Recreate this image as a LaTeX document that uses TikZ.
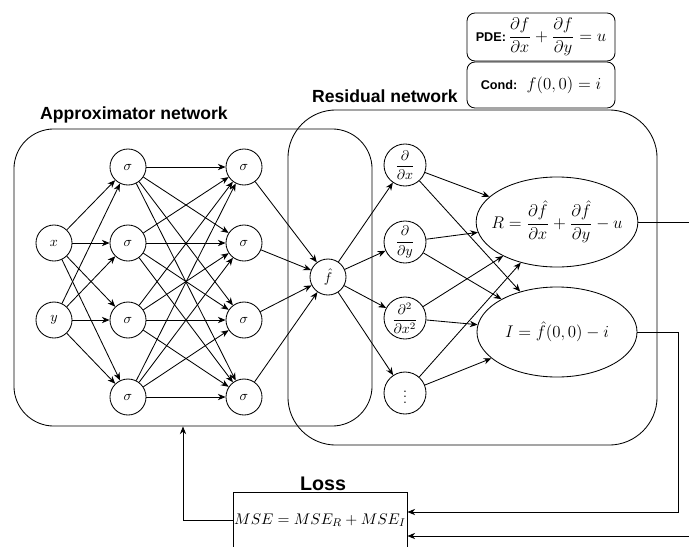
\documentclass[tikz,border=0pt]{standalone}
\usepackage{amsmath}
\usepackage{fontspec}
\newfontfamily\arialfont{Liberation Sans}
\newcommand\tagfont{\arialfont\bfseries\fontsize{9}{10}\selectfont}
\usetikzlibrary{shapes.geometric,arrows.meta}
\begin{document}
\begin{tikzpicture}[x=0.025cm,y=-0.025cm,line width=0.6pt,
   neuron/.style={circle,draw,minimum size=0.9cm,inner sep=0pt},
   deriv/.style={circle,draw,minimum size=1.05cm,inner sep=0pt},
   term/.style={ellipse,draw,minimum width=4cm,minimum height=2.25cm,inner sep=0pt,inner xsep=-6pt,font=\large},
   netbox/.style={draw,rounded corners=1cm,inner sep=0pt},
   condbox/.style={draw,rounded corners=0.2cm,minimum width=3.7cm,inner sep=2pt},
   title/.style={font=\arialfont\bfseries\fontsize{12.5}{14}\selectfont},
   conn/.style={-{Stealth[length=5.5pt,width=4.5pt]}}]
   \useasboundingbox (0,0) rectangle (689,546);
   \node[netbox,minimum width=8.95cm,minimum height=7.425cm] (approx) at (193,277.5) {};
   \node[netbox,rounded corners=1.2cm,minimum width=9.225cm,minimum height=8.375cm] (resid) at (472.5,277.5) {};
   \node[title] (approxlbl) at (134,115) {Approximator network};
   \node[title] (residlbl) at (385,96) {Residual network};
   \node[condbox,minimum height=1.2cm] (pde) at (541,37)
      {{\tagfont PDE:}\,\large$\dfrac{\partial f}{\partial x}+\dfrac{\partial f}{\partial y}=u$};
   \node[condbox,minimum height=1.15cm] (cond) at (541,85)
      {{\tagfont Cond:}\ \ \large$f(0,0)=i$};
   \node[neuron] (x) at (54,243) {$x$};
   \node[neuron] (y) at (54,320) {$y$};
   \foreach \i/\yy in {1/167,2/243,3/320,4/397} {
      \node[neuron] (a\i) at (128,\yy) {$\sigma$};
      \node[neuron] (b\i) at (244,\yy) {$\sigma$};
   }
   \node[neuron] (f) at (328,277) {$\hat{f}$};
   \node[deriv] (d1) at (405,165) {$\dfrac{\partial}{\partial x}$};
   \node[deriv] (d2) at (405,242) {$\dfrac{\partial}{\partial y}$};
   \node[deriv] (d3) at (405,318) {$\dfrac{\partial^2}{\partial x^2}$};
   \node[deriv] (d4) at (405,393) {$\vdots$};
   \node[term] (R) at (557,222) {$R=\dfrac{\partial\hat{f}}{\partial x}+\dfrac{\partial\hat{f}}{\partial y}-u$};
   \node[term] (I) at (557,332) {$I=\hat{f}(0,0)-i$};
   \node[font=\arialfont\bfseries\fontsize{14}{16}\selectfont] (losslbl) at (323,484) {Loss};
   \node[draw,minimum width=4.35cm,minimum height=1.4cm,inner sep=0pt,font=\fontsize{11.2}{13}\selectfont] (mse) at (320,520) {$MSE=MSE_R+MSE_I$};
   \foreach \i in {1,...,4} {
      \draw[conn] (x) -- (a\i);
      \draw[conn] (y) -- (a\i);
      \foreach \j in {1,...,4}
         \draw[conn] (a\i) -- (b\j);
      \draw[conn] (b\i) -- (f);
      \draw[conn] (f) -- (d\i);
      \draw[conn] (d\i) -- (R);
      \draw[conn] (d\i) -- (I);
   }
   \coordinate (iturn) at (678,512);
   \coordinate (rturn) at (700,536);
   \coordinate (fback) at (183,0);
   \draw[conn] (I.east) -| (iturn) -- (mse.east |- iturn);
   \draw[conn] (R.east) -| (rturn) -- (mse.east |- rturn);
   \draw[conn] (mse.west) -| (approx.south -| fback);
\end{tikzpicture}
\end{document}
